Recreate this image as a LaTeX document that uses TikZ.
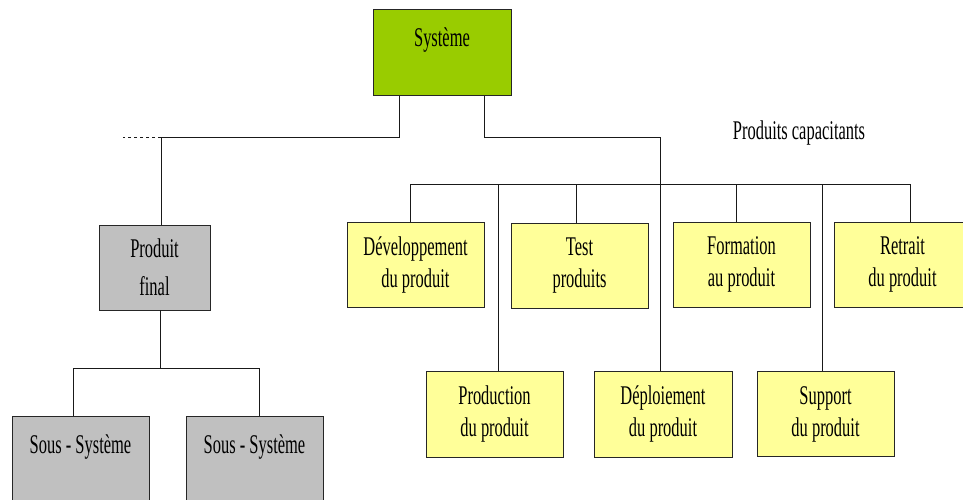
\documentclass[tikz,border=0pt]{standalone}
\usepackage{fontspec}
\setmainfont{Liberation Serif}[FakeStretch=0.61]
\definecolor{sysgreen}{HTML}{99CC00}
\definecolor{boxgray}{HTML}{C0C0C0}
\definecolor{boxyellow}{HTML}{FFFF99}
\begin{document}
\begin{tikzpicture}[x=1pt,y=-1pt,
  txt/.style={font=\fontsize{27pt}{32pt}\selectfont},
  box/.style={txt, draw=black!85, line width=0.9pt, inner sep=0pt,
    minimum width=137pt, minimum height=85pt, align=center},
  ybox/.style={box, fill=boxyellow},
  gbox/.style={box, fill=boxgray},
  topbox/.style={box, text height=37pt, anchor=north},
  link/.style={draw=black!90, line width=0.8pt}
]
\useasboundingbox (0,0) rectangle (963,500);
\clip (0,0) rectangle (963,500);

% top system
\node[topbox, fill=sysgreen, minimum width=138pt, text depth=49pt] (sys) at (442,9) {Syst\`eme};

% left branch
\node[gbox, minimum width=111pt] (pf) at (154.5,267.5) {Produit\\[6pt]final};
\node[topbox, fill=boxgray, text depth=120pt] (ss1) at (80.5,416) {Sous - Syst\`eme};
\node[topbox, fill=boxgray, text depth=120pt] (ss2) at (254.5,416) {Sous - Syst\`eme};

% enabling products
\node[txt] (pc) at (799,133) {Produits capacitants};
\node[ybox] (dev) at (415.5,264.5) {D\'eveloppement\\du produit};
\node[ybox] (test) at (579.5,265.5) {Test\\produits};
\node[ybox] (form) at (741.5,264.5) {Formation\\au produit};
\node[ybox] (ret) at (902.5,264.5) {Retrait\\du produit};
\node[ybox, minimum height=86pt] (prod) at (494.5,414) {Production\\du produit};
\node[ybox, minimum height=86pt, minimum width=138pt] (depl) at (663,414) {D\'eploiement\\du produit};
\node[ybox] (supp) at (825.5,414) {Support\\du produit};

% connectors from system
\coordinate (sL) at (399,137);
\coordinate (sR) at (484,137);
\coordinate (pfTop) at (161,137);
\coordinate (dashEnd) at (123,137);
\coordinate (deplTop) at (660,137);
\draw[link] (sL |- sys.south) -- (sL) -- (pfTop) -- (pfTop |- pf.north);
\draw[link, dashed, dash pattern=on 3pt off 3pt] (pfTop) -- (dashEnd);
\draw[link] (sR |- sys.south) -- (sR) -- (deplTop) -- (deplTop |- depl.north);

% horizontal bar of enabling products
\coordinate (b1) at (410,184);
\coordinate (b2) at (498,184);
\coordinate (b3) at (576,184);
\coordinate (b5) at (736,184);
\coordinate (b6) at (822,184);
\coordinate (b7) at (910,184);
\draw[link] (b1) -- (b7);
\draw[link] (b1) -- (b1 |- dev.north);
\draw[link] (b2) -- (b2 |- prod.north);
\draw[link] (b3) -- (b3 |- test.north);
\draw[link] (b5) -- (b5 |- form.north);
\draw[link] (b6) -- (b6 |- supp.north);
\draw[link] (b7) -- (b7 |- ret.north);

% sub-systems
\coordinate (pfB) at (160,368);
\coordinate (s1) at (73,368);
\coordinate (s2) at (259,368);
\draw[link] (pfB |- pf.south) -- (pfB);
\draw[link] (s1) -- (s2);
\draw[link] (s1) -- (s1 |- ss1.north);
\draw[link] (s2) -- (s2 |- ss2.north);
\end{tikzpicture}
\end{document}
